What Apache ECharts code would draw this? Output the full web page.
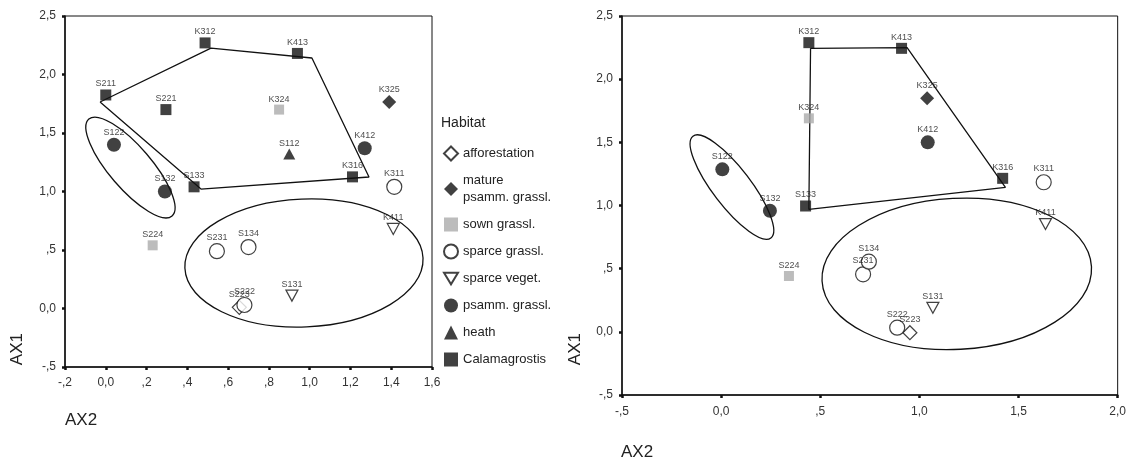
<!doctype html>
<html lang="en">
    <head>
        <meta charset="UTF-8">
        <title>AX1 / AX2 ordination</title>
        <style>
            html, body { margin: 0; padding: 0; background: #fff; }
            #main { width: 1129px; height: 463px; }
        </style>
    </head>
    <body>
        <div id="main"></div>
        <script src="https://cdn.jsdelivr.net/npm/echarts@6/dist/echarts.min.js"></script>
        <script type="text/javascript">
        // habitats (legend order) and the symbol used for each
        var habitats = ['afforestation', 'mature\npsamm. grassl.', 'sown grassl.', 'sparce grassl.',
                        'sparce veget.', 'psamm. grassl.', 'heath', 'Calamagrostis'];

        // sites and their habitat (index into habitats)
        var sites       = ['K312', 'K413', 'S211', 'S221', 'K324', 'K325', 'S122', 'S112', 'K412', 'S132',
                           'S133', 'K316', 'K311', 'K411', 'S224', 'S231', 'S134', 'S131', 'S222', 'S223'];
        var siteHabitat = [7, 7, 7, 7, 2, 1, 5, 6, 5, 5,
                           7, 7, 3, 4, 2, 3, 3, 4, 3, 0];

        // left plot scores
        var leftAX2 = [0.487, 0.94, 0.0, 0.295, 0.85, 1.39, 0.04, 0.90, 1.27, 0.29,
                       0.433, 1.21, 1.415, 1.41, 0.23, 0.545, 0.70, 0.913, 0.68, 0.655];
        var leftAX1 = [2.27, 2.18, 1.825, 1.70, 1.70, 1.765, 1.40, 1.32, 1.37, 1.00,
                       1.04, 1.125, 1.04, 0.68, 0.54, 0.49, 0.525, 0.11, 0.03, 0.01];

        // right plot scores (S211, S221, S112 not shown)
        var rightAX2 = [0.4425, 0.91, null, null, 0.4425, 1.039, 0.006, null, 1.042, 0.246,
                        0.426, 1.42, 1.627, 1.636, 0.342, 0.716, 0.745, 1.068, 0.888, 0.952];
        var rightAX1 = [2.289, 2.244, null, null, 1.69, 1.849, 1.286, null, 1.50, 0.959,
                        0.996, 1.215, 1.184, 0.853, 0.442, 0.455, 0.555, 0.19, 0.033, -0.007];

        // group outlines: hull vertices, ellipses as [centre x, centre y, major end x, y, minor end x, y]
        var leftHull = [[-0.028, 1.765], [0.516, 2.226], [1.011, 2.141], [1.291, 1.124], [0.467, 1.021]];
        var rightHull = [[0.451, 2.244], [0.938, 2.249], [1.434, 1.144], [0.4425, 0.97]];
        var leftEllipses = [[0.121, 1.205, 0.325, 0.791, 0.2, 1.321],
                            [0.972, 0.389, 1.556, 0.432, 0.959, 0.935]];
        var rightEllipses = [[0.0544, 1.146, 0.251, 0.743, 0.1305, 1.237],
                             [1.1885, 0.459, 1.868, 0.5155, 1.168, 1.056]];

        // tick labels (SPSS style)
        var leftXLabels = ['-,2', '0,0', ',2', ',4', ',6', ',8', '1,0', '1,2', '1,4', '1,6'];
        var rightXLabels = ['-,5', '0,0', ',5', '1,0', '1,5', '2,0'];
        var yLabels = ['-,5', '0,0', ',5', '1,0', '1,5', '2,0', '2,5'];

        var ink = '#111';
        var font = 'Liberation Sans, Arial';
        var downTri = 'path://M0,0L12,0L6,10Z';
        var habitatStyle = [
            { symbol: 'diamond', size: 14, item: { color: '#fff', borderColor: ink, borderWidth: 1.2 } },
            { symbol: 'diamond', size: 14, item: { color: ink } },
            { symbol: 'rect', size: 10, item: { color: '#ababab' } },
            { symbol: 'circle', size: 15, item: { color: '#fff', borderColor: ink, borderWidth: 1.2 } },
            { symbol: downTri, size: [12, 11], item: { color: '#fff', borderColor: ink, borderWidth: 1.2 } },
            { symbol: 'circle', size: 14, item: { color: ink } },
            { symbol: 'triangle', size: [12, 11], item: { color: ink } },
            { symbol: 'rect', size: 11, item: { color: ink } }
        ];

        var myChart = echarts.init(document.getElementById('main'));

        function axisCommon(labels, margin) {
            return {
                type: 'value',
                axisLine: { show: true, onZero: false, lineStyle: { color: ink, width: 1.5 } },
                axisTick: { show: true, length: 3, lineStyle: { color: ink, width: 2.5 } },
                splitLine: { show: false },
                axisLabel: {
                    color: '#333', fontSize: 12, margin: margin, fontFamily: font,
                    formatter: function (v, i) { return labels[i]; }
                }
            };
        }

        function renderEllipse(params, api) {
            var c = api.coord([api.value(0), api.value(1)]);
            var m = api.coord([api.value(2), api.value(3)]);
            var n = api.coord([api.value(4), api.value(5)]);
            return {
                type: 'ellipse',
                x: c[0], y: c[1],
                rotation: -Math.atan2(m[1] - c[1], m[0] - c[0]),
                shape: { cx: 0, cy: 0,
                         rx: Math.hypot(m[0] - c[0], m[1] - c[1]),
                         ry: Math.hypot(n[0] - c[0], n[1] - c[1]) },
                style: { fill: 'none', stroke: ink, lineWidth: 1.3 }
            };
        }

        var series = [];
        [[leftAX2, leftAX1, leftHull, leftEllipses], [rightAX2, rightAX1, rightHull, rightEllipses]].forEach(function (p, gi) {
            habitats.forEach(function (h, hi) {
                var data = [];
                sites.forEach(function (s, si) {
                    if (siteHabitat[si] === hi && p[0][si] != null) {
                        data.push({ name: s, value: [p[0][si], p[1][si]] });
                    }
                });
                series.push({
                    type: 'scatter', name: h, xAxisIndex: gi, yAxisIndex: gi, z: 4,
                    symbol: habitatStyle[hi].symbol,
                    symbolSize: habitatStyle[hi].size,
                    itemStyle: habitatStyle[hi].item,
                    label: {
                        show: true, position: 'top', distance: 1, formatter: '{b}',
                        fontSize: 9, color: '#222', fontFamily: font
                    },
                    emphasis: { disabled: true },
                    data: data
                });
            });
            series.push({
                type: 'line', xAxisIndex: gi, yAxisIndex: gi, z: 2, symbol: 'none', silent: true,
                lineStyle: { color: ink, width: 1.3 },
                data: p[2].concat([p[2][0]])
            });
            series.push({
                type: 'custom', xAxisIndex: gi, yAxisIndex: gi, z: 2, silent: true,
                renderItem: renderEllipse,
                encode: { x: 0, y: 1 },
                data: p[3]
            });
        });

        var option = {
            animation: false,
            backgroundColor: '#fff',
            grid: [
                { left: 65, top: 16, width: 367, height: 351, show: true, borderColor: ink, borderWidth: 1 },
                { left: 622, top: 16, width: 496, height: 379, show: true, borderColor: ink, borderWidth: 1 }
            ],
            xAxis: [
                Object.assign(axisCommon(leftXLabels, 10), { gridIndex: 0, min: -0.2, max: 1.6, interval: 0.2 }),
                Object.assign(axisCommon(rightXLabels, 11), { gridIndex: 1, min: -0.5, max: 2.0, interval: 0.5 })
            ],
            yAxis: [
                Object.assign(axisCommon(yLabels, 9), { gridIndex: 0, min: -0.5, max: 2.5, interval: 0.5 }),
                Object.assign(axisCommon(yLabels, 9), { gridIndex: 1, min: -0.5, max: 2.5, interval: 0.5 })
            ],
            legend: {
                orient: 'vertical', left: 443, top: 145, padding: 0,
                itemWidth: 14, itemHeight: 14, itemGap: 10,
                selectedMode: false,
                textStyle: { fontSize: 13, color: '#222', lineHeight: 17, fontFamily: font },
                data: habitats.map(function (h, hi) {
                    return { name: h, icon: habitatStyle[hi].symbol };
                })
            },
            graphic: [
                { type: 'text', left: 441, top: 116, style: { text: 'Habitat', fontSize: 14, fill: '#222', fontFamily: font } },
                { type: 'text', left: 65, top: 412, style: { text: 'AX2', fontSize: 17, fill: '#222', fontFamily: font } },
                { type: 'text', left: 9, top: 333, rotation: Math.PI / 2, style: { text: 'AX1', fontSize: 17, fill: '#222', fontFamily: font } },
                { type: 'text', left: 621, top: 444, style: { text: 'AX2', fontSize: 17, fill: '#222', fontFamily: font } },
                { type: 'text', left: 567, top: 333, rotation: Math.PI / 2, style: { text: 'AX1', fontSize: 17, fill: '#222', fontFamily: font } }
            ],
            series: series
        };

        myChart.setOption(option);
        </script>
    </body>
</html>
